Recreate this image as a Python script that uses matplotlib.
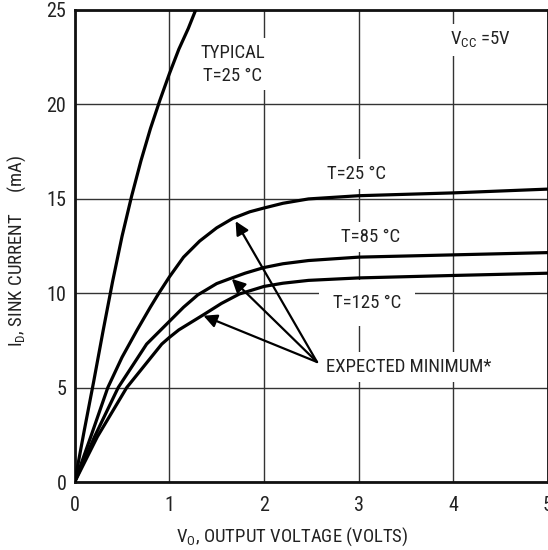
import matplotlib.pyplot as plt
from matplotlib import font_manager

# reference uses a condensed sans; take the narrowest one that is installed
font_family, font_stretch, fs = 'Lato', 'normal', 12.5
for fam, stretch in [('Liberation Sans Narrow', 'normal'), ('Roboto Condensed', 'normal'),
                     ('Open Sans Condensed', 'normal'), ('Noto Sans', 'condensed'),
                     ('Open Sans', 'condensed'), ('DejaVu Sans', 'condensed')]:
    try:
        path = font_manager.findfont(font_manager.FontProperties(family=fam, stretch=stretch),
                                     fallback_to_default=False)
    except ValueError:
        continue
    name = path.lower()
    if 'narrow' in name or 'condensed' in name or 'cond' in name:
        font_family, font_stretch, fs = fam, stretch, 13.5
        break

plt.rcParams['font.family'] = [font_family, 'DejaVu Sans']
plt.rcParams['font.stretch'] = font_stretch

# (V_O in volts, I_D in mA)
typ_v = [0, 0.1, 0.2, 0.3, 0.4, 0.5, 0.6, 0.7, 0.8, 0.9, 1.0, 1.1, 1.2, 1.28]
typ_i = [0, 2.7, 5.3, 8.0, 10.6, 13.0, 15.1, 17.0, 18.7, 20.2, 21.6, 22.9, 24.0, 25]

t25_v = [0, 0.17, 0.35, 0.5, 0.66, 0.8, 0.89, 1.0, 1.15, 1.32, 1.5, 1.67, 1.85, 2.0, 2.2, 2.47, 3, 4, 5]
t25_i = [0, 2.4, 5, 6.6, 8.05, 9.26, 10, 10.85, 11.9, 12.75, 13.45, 13.95, 14.3, 14.5, 14.75,
         14.98, 15.15, 15.3, 15.5]

t85_v = [0, 0.21, 0.46, 0.76, 1.0, 1.15, 1.3, 1.5, 1.66, 1.8, 2.0, 2.2, 2.47, 3, 4, 5]
t85_i = [0, 2.4, 5, 7.3, 8.5, 9.25, 9.9, 10.5, 10.8, 11.05, 11.35, 11.55, 11.72, 11.9, 12.02, 12.14]

t125_v = [0, 0.24, 0.55, 0.92, 1.0, 1.1, 1.36, 1.55, 1.74, 2.0, 2.2, 2.47, 3, 4, 5]
t125_i = [0, 2.4, 5, 7.3, 7.65, 8.05, 8.85, 9.45, 9.95, 10.35, 10.52, 10.67, 10.8, 10.93, 11.05]

arrow_tips = [(1.70, 13.8), (1.66, 10.75), (1.36, 8.8)]
arrow_tail = (2.56, 6.35)

fig = plt.figure(figsize=(5.48, 5.5), dpi=100)
ax = fig.add_axes([0.1363, 0.1236, 0.8637, 0.859])

ax.set_xlim(0, 5)
ax.set_ylim(0, 25)
ax.set_xticks([0, 1, 2, 3, 4, 5])
ax.set_yticks([0, 5, 10, 15, 20, 25])
ax.grid(True, color='#333333', lw=1.0)
ax.set_axisbelow(True)
ax.tick_params(length=0, labelsize=fs + 1, colors='#222222')
ax.tick_params(axis='x', pad=10)
ax.tick_params(axis='y', pad=6)
for s in ax.spines.values():
    s.set_linewidth(2.0)
    s.set_color('#111111')

for v, i in [(typ_v, typ_i), (t25_v, t25_i), (t85_v, t85_i), (t125_v, t125_i)]:
    ax.plot(v, i, color='black', lw=2.3, solid_joinstyle='round', solid_capstyle='round', zorder=3)

box = dict(facecolor='white', edgecolor='none', pad=4)
ax.text(1.67, 22.1, 'TYPICAL\nT=25 °C', ha='center', va='center', fontsize=fs,
        linespacing=1.35, bbox=box, color='#222222', zorder=2)
ax.text(4.29, 23.4, 'V$_\\mathregular{CC}$ =5V', ha='center', va='center', fontsize=fs,
        bbox=box, color='#222222', zorder=2)
ax.text(2.98, 16.3, 'T=25 °C', ha='center', va='center', fontsize=fs, bbox=box,
        color='#222222', zorder=2)
ax.text(3.13, 12.96, 'T=85 °C', ha='center', va='center', fontsize=fs, bbox=box,
        color='#222222', zorder=2)
ax.text(3.09, 9.47, 'T=125 °C', ha='center', va='center', fontsize=fs,
        bbox=dict(facecolor='white', edgecolor='none', pad=10), color='#222222', zorder=2)
ax.text(2.66, 6.08, 'EXPECTED MINIMUM*', ha='left', va='center', fontsize=fs, bbox=box,
        color='#222222', zorder=2)

for tip in arrow_tips:
    ax.annotate('', xy=tip, xytext=arrow_tail,
                arrowprops=dict(arrowstyle='-|>', color='black', lw=1.6,
                                mutation_scale=20, shrinkA=0, shrinkB=0),
                zorder=4)

ax.set_xlabel('V$_\\mathregular{O}$, OUTPUT VOLTAGE (VOLTS)', fontsize=fs, color='#222222')
ax.set_ylabel('I$_\\mathregular{D}$, SINK CURRENT     (mA)', fontsize=fs, color='#222222')
ax.xaxis.set_label_coords(0.46, -0.093)
ax.yaxis.set_label_coords(-0.098, 0.49)

fig.savefig('out.png', dpi=100)
